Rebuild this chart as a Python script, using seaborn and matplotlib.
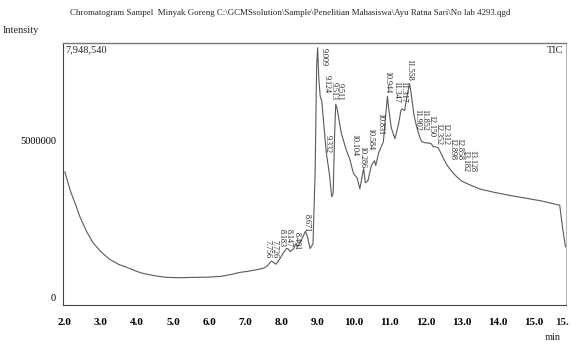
import matplotlib
matplotlib.use("Agg")
import matplotlib.pyplot as plt
import seaborn as sns
import numpy as np
import pandas as pd
from matplotlib.ticker import MultipleLocator

# ---- data ----
time_min = [2.00, 2.15, 2.30, 2.42, 2.60, 2.78, 3.00, 3.25, 3.50, 3.72, 4.00, 4.16, 4.50, 4.83,
            5.20, 5.55, 6.00, 6.30, 6.60, 6.85, 7.05, 7.30, 7.50, 7.60, 7.726, 7.756, 7.85, 7.95,
            8.05, 8.147, 8.183, 8.25, 8.35, 8.401, 8.45, 8.55, 8.671, 8.72, 8.80, 8.88, 8.94,
            8.98, 9.009, 9.04, 9.08, 9.124, 9.18, 9.25, 9.332, 9.40, 9.44, 9.48, 9.511, 9.55,
            9.66, 9.80, 9.90, 10.00, 10.104, 10.18, 10.25, 10.286, 10.33, 10.40, 10.50, 10.584,
            10.62, 10.70, 10.831, 10.88, 10.944, 10.98, 11.05, 11.15, 11.25, 11.317, 11.347,
            11.42, 11.50, 11.558, 11.60, 11.68, 11.75, 11.852, 11.902, 12.00, 12.15, 12.21,
            12.312, 12.352, 12.40, 12.48, 12.60, 12.76, 12.90, 13.00, 13.23, 13.50, 13.87,
            14.30, 14.80, 15.20, 15.72, 15.80, 15.88]
intensity = [4.00, 3.40, 2.95, 2.56, 2.10, 1.74, 1.45, 1.20, 1.04, 0.95, 0.82, 0.76, 0.68, 0.63,
             0.62, 0.63, 0.64, 0.66, 0.72, 0.79, 0.82, 0.87, 0.92, 0.98, 1.15, 1.13, 1.05, 1.20,
             1.40, 1.55, 1.55, 1.45, 1.55, 1.70, 1.60, 1.80, 2.10, 1.95, 1.55, 1.70, 4.00,
             7.30, 7.95, 7.00, 6.40, 6.25, 5.50, 4.60, 3.95, 3.20, 3.30, 5.20, 6.15, 6.00,
             5.25, 4.70, 4.40, 3.95, 3.80, 3.45, 3.90, 4.10, 3.65, 3.70, 4.20, 4.35,
             4.20, 4.60, 4.95, 5.60, 6.40, 6.00, 5.40, 5.05, 5.50, 5.95, 6.00,
             5.95, 6.50, 6.80, 6.50, 5.80, 5.45, 5.05, 4.95, 4.92, 4.90, 4.80,
             4.78, 4.76, 4.65, 4.46, 4.20, 3.96, 3.80, 3.70, 3.58, 3.45, 3.35,
             3.25, 3.15, 3.07, 2.93, 2.20, 1.60]
intensity = [v * 1e6 for v in intensity]

# peak label groups (retention times printed above the peaks)
peak_labels = ["7.726\n7.756", "8.147\n8.183", "8.401", "8.671", "9.124", "9.332",
               "9.511\n9.513", "10.104", "10.286", "10.584", "10.831", "10.944",
               "11.317\n11.347", "11.558", "11.852\n11.902", "12.150", "12.312\n12.352",
               "12.858\n12.898", "13.128\n13.182"]
peak_label_x = [7.72, 8.11, 8.43, 8.71, 9.26, 9.29, 9.54, 10.04, 10.26, 10.48, 10.76, 10.93,
                11.29, 11.54, 11.86, 12.16, 12.46, 12.84, 13.20]
peak_label_base = [1.24, 1.60, 1.50, 2.07, 6.50, 4.60, 6.27, 4.50, 4.10, 4.68, 5.16, 6.50,
                   6.20, 6.90, 5.30, 5.10, 4.85, 4.36, 4.00]
main_peak_label = "9.009"
main_peak_label_x = 9.18

x_ticks = [2.0, 3.0, 4.0, 5.0, 6.0, 7.0, 8.0, 9.0, 10.0, 11.0, 12.0, 13.0, 14.0, 15.0]
x_tick_labels = ["2.0", "3.0", "4.0", "5.0", "6.0", "7.0", "8.0", "9.0", "10.0", "11.0",
                 "12.0", "13.0", "14.0", "15.0"]
y_ticks = [0, 5000000]
y_tick_labels = ["0", "5000000"]

title = r"Chromatogram Sampel  Minyak Goreng C:\GCMSsolution\Sample\Penelitian Mahasiswa\Ayu Ratna Sari\No lab 4293.qgd"

# ---- plot ----
sns.set_theme(style="white")
plt.rcParams["font.family"] = ["Liberation Serif", "DejaVu Serif"]

fig = plt.figure(figsize=(5.71, 3.47), dpi=100)
ax = fig.add_axes([0.110, 0.121, 0.881, 0.755])

df = pd.DataFrame({"t": time_min, "I": intensity})
sns.lineplot(data=df, x="t", y="I", ax=ax, color="#5a5a5a", linewidth=0.8, sort=False)

ax.set_xlim(1.945, 15.89)
ax.set_ylim(-0.25e6, 8.1e6)

ax.set_xticks(x_ticks)
ax.set_xticklabels(x_tick_labels, fontsize=8, fontweight="bold")
ax.set_yticks(y_ticks)
ax.set_yticklabels(y_tick_labels, fontsize=7.5)
ax.xaxis.set_minor_locator(MultipleLocator(0.1))
ax.yaxis.set_minor_locator(MultipleLocator(1e6))
ax.tick_params(axis="x", which="major", direction="inout", length=6, width=0.7, pad=6, colors="#333333")
ax.tick_params(axis="x", which="minor", direction="inout", length=4, width=0.5, colors="#555555")
ax.tick_params(axis="y", which="major", direction="out", length=3, width=0.7, pad=2, colors="#333333")
ax.tick_params(axis="y", which="minor", direction="out", length=2, width=0.5, colors="#888888")
for lab in ax.get_xticklabels() + ax.get_yticklabels():
    lab.set_color("black")
ax.set_xlabel("")
ax.set_ylabel("")

for side in ["left", "bottom"]:
    ax.spines[side].set_color("#444444")
    ax.spines[side].set_linewidth(0.8)
ax.spines["top"].set_color("#777777")
ax.spines["top"].set_linewidth(1.0)
ax.spines["top"].set_linestyle((0, (3, 1)))
ax.spines["right"].set_color("#aaaaaa")
ax.spines["right"].set_linewidth(0.6)

# peak labels
for lab, x, base in zip(peak_labels, peak_label_x, peak_label_base):
    ax.text(x, base * 1e6, lab, rotation=-90, ha="center", va="bottom",
            fontsize=5.9, color="#222222", linespacing=0.8)
ax.text(main_peak_label_x, 7.95e6, main_peak_label, rotation=-90, ha="center", va="top",
        fontsize=5.9, color="#222222")

ax.text(0.005, 0.99, "7,948,540", transform=ax.transAxes, ha="left", va="top", fontsize=7.5)
ax.text(0.995, 0.99, "TIC", transform=ax.transAxes, ha="right", va="top", fontsize=7.5)
ax.text(15.78, -0.8e6, "15.", ha="center", va="center", fontsize=8, fontweight="bold",
        clip_on=False)

fig.text(0.005, 0.913, "Intensity", ha="left", va="center", fontsize=7.5)
fig.text(0.509, 0.963, title, ha="center", va="center", fontsize=6.4)
fig.text(0.982, 0.015, "min", ha="right", va="bottom", fontsize=7.5)

fig.savefig("out.png", dpi=100)
